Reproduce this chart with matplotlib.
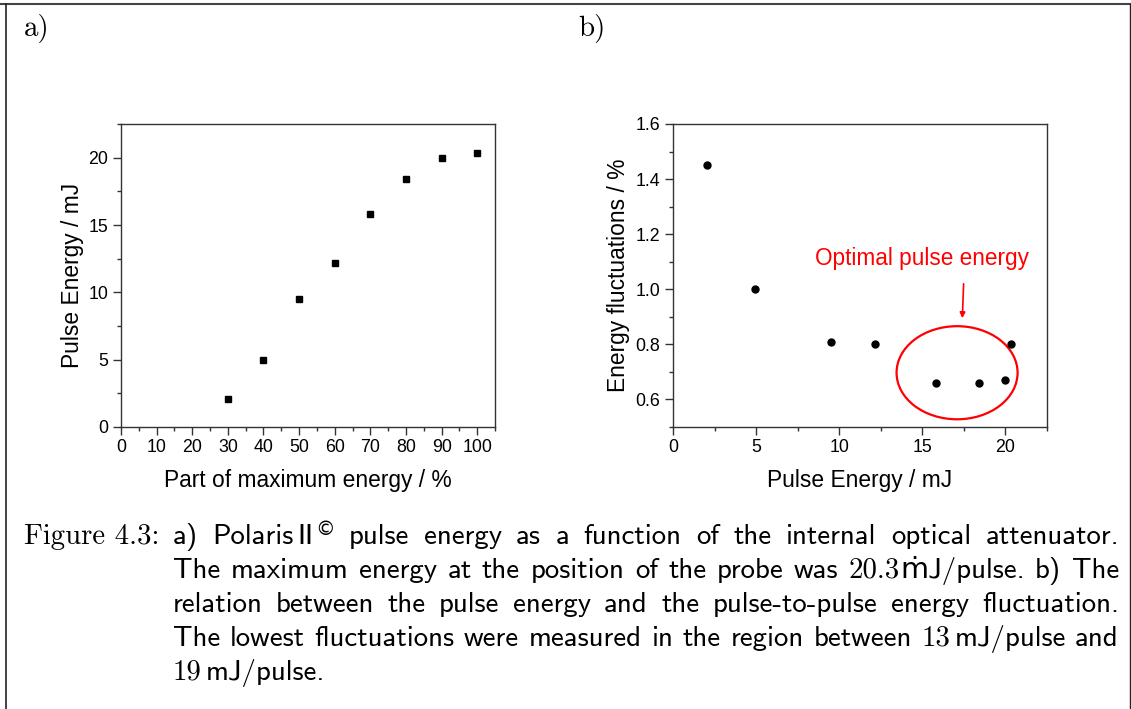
import matplotlib
matplotlib.use("Agg")
import matplotlib.pyplot as plt
from matplotlib.patches import Ellipse
from matplotlib.lines import Line2D
from matplotlib.ticker import MultipleLocator

# data
part_pct = [30, 40, 50, 60, 70, 80, 90, 100]
pulse_mj = [2.06, 4.95, 9.49, 12.15, 15.84, 18.38, 20.0, 20.33]
fluct_pct = [1.45, 1.00, 0.81, 0.80, 0.66, 0.66, 0.67, 0.80]

W, H = 1131, 709
SANS = "Liberation Sans"

fig = plt.figure(figsize=(W / 100, H / 100), dpi=100)


def px_axes(l, t, r, b):
    return fig.add_axes([l / W, 1 - b / H, (r - l) / W, (b - t) / H])


def style_axes(ax):
    for s in ax.spines.values():
        s.set_linewidth(1.0)
        s.set_color("#333333")
    ax.tick_params(which="major", direction="out", length=5.5, width=1,
                   labelsize=12.8, pad=3.5, color="#333333")
    ax.tick_params(which="minor", direction="out", length=3, width=1,
                   color="#333333")
    for lab in ax.get_xticklabels() + ax.get_yticklabels():
        lab.set_fontfamily(SANS)


# ---- panel a
ax1 = px_axes(121, 124, 495, 427)
ax1.plot(part_pct, pulse_mj, ls="none", marker="s", ms=4.3, color="black")
ax1.set_xlim(0, 105)
ax1.set_ylim(0, 22.5)
ax1.xaxis.set_major_locator(MultipleLocator(10))
ax1.xaxis.set_minor_locator(MultipleLocator(5))
ax1.yaxis.set_major_locator(MultipleLocator(5))
ax1.yaxis.set_minor_locator(MultipleLocator(2.5))
style_axes(ax1)
ax1.set_xlabel("Part of maximum energy / %", fontsize=16.4, family=SANS, labelpad=9)
ax1.set_ylabel("Pulse Energy / mJ", fontsize=16.4, family=SANS, labelpad=3)

# ---- panel b
ax2 = px_axes(673, 124, 1047, 427)
ax2.plot(pulse_mj, fluct_pct, ls="none", marker="o", ms=5, color="black")
ax2.set_xlim(0, 22.5)
ax2.set_ylim(0.5, 1.6)
ax2.xaxis.set_major_locator(MultipleLocator(5))
ax2.xaxis.set_minor_locator(MultipleLocator(2.5))
ax2.yaxis.set_major_locator(MultipleLocator(0.2))
ax2.yaxis.set_minor_locator(MultipleLocator(0.1))
ax2.yaxis.set_major_formatter(matplotlib.ticker.FormatStrFormatter("%.1f"))
style_axes(ax2)
ax2.set_xlabel("Pulse Energy / mJ", fontsize=16.4, family=SANS, labelpad=9)
ax2.set_ylabel("Energy fluctuations / %", fontsize=16.4, family=SANS, labelpad=4)

ax2.add_patch(Ellipse((17.09, 0.697), 7.28, 0.338, fill=False,
                      edgecolor="red", lw=1.6))
ax2.annotate("", xy=(17.40, 0.885), xytext=(17.49, 1.03),
             arrowprops=dict(arrowstyle="-|>", color="red", lw=1.2,
                             mutation_scale=8))
ax2.text(15.0, 1.113, "Optimal pulse energy", color="red", fontsize=16.3,
         family=SANS, ha="center", va="center")

# ---- frame lines
fig.add_artist(Line2D([0, 1], [1 - 3.5 / H] * 2, color="#444444", lw=1.5))
fig.add_artist(Line2D([6 / W] * 2, [0, 1 - 3.5 / H], color="#222222", lw=1.2))
fig.add_artist(Line2D([1129.5 / W] * 2, [0, 1 - 3.5 / H], color="#222222", lw=1.0))

# ---- panel tags
SERIF = "cmr10"
CSANS = ["cmss10", "DejaVu Sans"]
FS = 20.8
fig.text(24 / W, 1 - 36 / H, "a)", family=SERIF, fontsize=FS, va="baseline")
fig.text(578 / W, 1 - 36 / H, "b)", family=SERIF, fontsize=FS, va="baseline")

# ---- caption, justified by hand
renderer = fig.canvas.get_renderer()


def seg_width(txt, fam, size):
    t = fig.text(0, 0, txt, family=fam, fontsize=size)
    w = t.get_window_extent(renderer).width
    t.remove()
    return w


def word_width(segs):
    return sum(seg_width(s, f, z) + g for s, f, z, dy, g in segs)


def draw_word(x, ybase, segs):
    for s, f, z, dy, g in segs:
        fig.text(x / W, 1 - (ybase - dy) / H, s, family=f, fontsize=z,
                 va="baseline")
        x += seg_width(s, f, z) + g


def sw(w):
    return [(w, CSANS, FS, 0, 0)]


fig.text(24 / W, 1 - 544 / H, "Figure 4.3:", family=SERIF, fontsize=FS,
         va="baseline")

cap_lines = [
    [sw("a)"), [("Polaris", CSANS, FS, 0, 4), ("II", CSANS, FS, 0, 1),
                ("\u00a9", ["DejaVu Sans"], 14, 9, 0)]]
    + [sw(w) for w in "pulse energy as a function of the internal optical attenuator.".split()],
    [sw(w) for w in "The maximum energy at the position of the probe was".split()]
    + [[("20.3", SERIF, FS, 0, 0), ("\u1e41J/pulse.", CSANS, FS, 0, 0)]]
    + [sw("b)"), sw("The")],
    [sw(w) for w in "relation between the pulse energy and the pulse-to-pulse energy fluctuation.".split()],
    [sw(w) for w in "The lowest fluctuations were measured in the region between".split()]
    + [[("13", SERIF, FS, 0, 4), ("mJ/pulse", CSANS, FS, 0, 0)], sw("and")],
]
left, right = 173, 1119
baselines = [544, 578, 612, 646, 680]
for words, yb in zip(cap_lines, baselines):
    widths = [word_width(w) for w in words]
    gap = (right - left - sum(widths)) / (len(words) - 1)
    x = left
    for w, wd in zip(words, widths):
        draw_word(x, yb, w)
        x += wd + gap
draw_word(left, baselines[4], [("19", SERIF, FS, 0, 4), ("mJ/pulse.", CSANS, FS, 0, 0)])

fig.savefig("out.png", dpi=100)
